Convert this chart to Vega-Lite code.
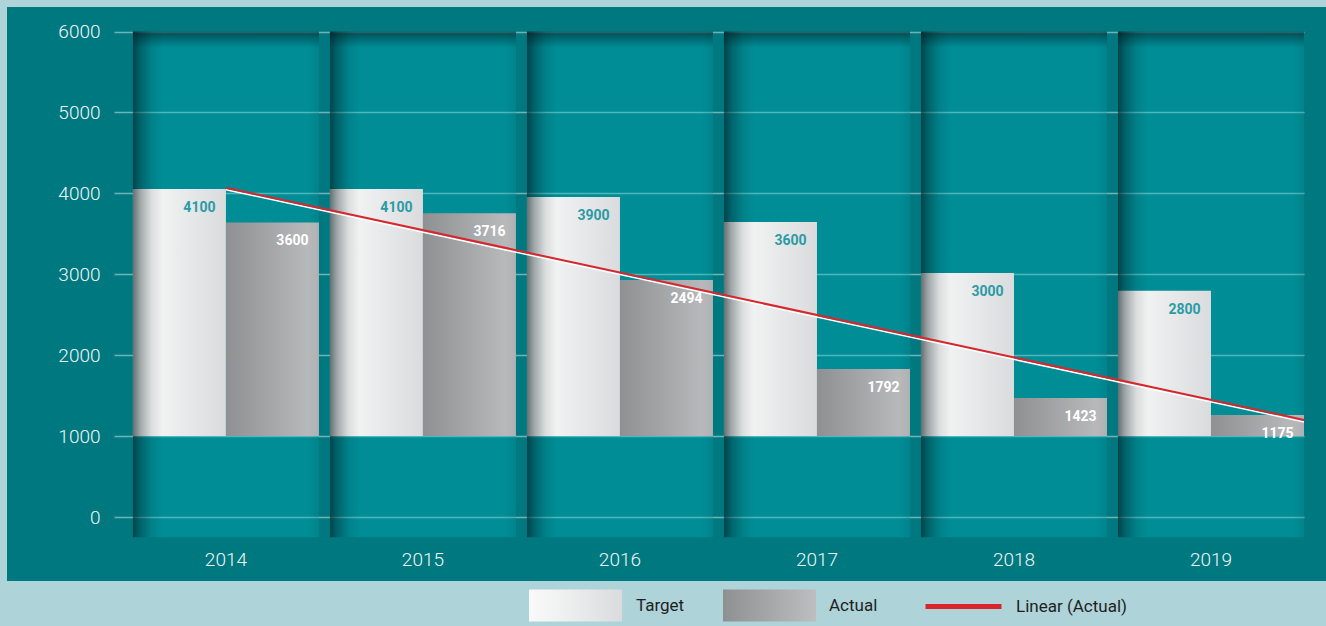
{
  "$schema": "https://vega.github.io/schema/vega-lite/v6.json",
  "width": 1319,
  "height": 574,
  "autosize": {"type": "none"},
  "padding": {"left": 7, "top": 7, "right": 0, "bottom": 45},
  "background": "#aed3d9",
  "data": {"name": "table"},
  "datasets": {
    "table": [
      {"year": "2014", "series": "Target", "bar": 4055, "label": 4100},
      {"year": "2014", "series": "Actual", "bar": 3640, "label": 3600},
      {"year": "2015", "series": "Target", "bar": 4055, "label": 4100},
      {"year": "2015", "series": "Actual", "bar": 3755, "label": 3716},
      {"year": "2016", "series": "Target", "bar": 3955, "label": 3900},
      {"year": "2016", "series": "Actual", "bar": 2930, "label": 2494},
      {"year": "2017", "series": "Target", "bar": 3645, "label": 3600},
      {"year": "2017", "series": "Actual", "bar": 1830, "label": 1792},
      {"year": "2018", "series": "Target", "bar": 3015, "label": 3000},
      {"year": "2018", "series": "Actual", "bar": 1470, "label": 1423},
      {"year": "2019", "series": "Target", "bar": 2795, "label": 2800},
      {"year": "2019", "series": "Actual", "bar": 1260, "label": 1175}
    ],
    "trend": [
      {"from": "2014", "to": "2019", "start": 4070, "end": 1200}
    ]
  },
  "resolve": {"scale": {"stroke": "independent"}, "legend": {"stroke": "independent"}},
  "layer": [
    {
      "transform": [{"filter": "datum.series === 'Target'"}],
      "mark": {"type": "bar", "color": "#00c1cc", "opacity": 0.3},
      "encoding": {
        "x": {
          "field": "year", "type": "nominal",
          "scale": {"range": [107, 1297], "paddingInner": 0.0558, "paddingOuter": 0.048, "align": 1},
          "axis": {"title": null}
        },
        "y": {
          "datum": 6000, "type": "quantitative",
          "scale": {"domain": [0, 6000], "range": [510, 24.5], "nice": false, "zero": false},
          "axis": {"title": null, "values": [0, 1000, 2000, 3000, 4000, 5000, 6000], "format": "d"}
        },
        "y2": {"datum": -250}
      }
    },
    {
      "transform": [{"filter": "datum.series === 'Target'"}],
      "mark": {
        "type": "bar", "strokeWidth": 0,
        "color": {"gradient": "linear", "x1": 0, "y1": 0, "x2": 1, "y2": 0, "stops": [{"offset": 0, "color": "#f9f9f9"}, {"offset": 0.3, "color": "#f1f2f2"}, {"offset": 1, "color": "#dadbdd"}]}
      },
      "encoding": {
        "x": {"field": "year", "type": "nominal", "axis": {"title": null}},
        "xOffset": {"field": "series", "type": "nominal", "scale": {"domain": ["Target", "Actual"], "paddingInner": 0, "paddingOuter": 0}},
        "y": {"field": "bar", "type": "quantitative", "axis": {"title": null}},
        "y2": {"datum": 1000},
        "stroke": {
          "datum": "Target", "type": "nominal",
          "scale": {"range": ["#eeeeee"]},
          "legend": {
            "title": null,
            "orient": "none",
            "legendX": 522,
            "legendY": 552,
            "symbolSize": 8649,
            "symbolType": "M-1,-0.344H1V0.344H-1Z",
            "symbolStrokeWidth": 0,
            "symbolOpacity": 1,
            "labelOffset": 14
          }
        }
      }
    },
    {
      "transform": [{"filter": "datum.series === 'Actual'"}],
      "mark": {
        "type": "bar", "strokeWidth": 0,
        "color": {"gradient": "linear", "x1": 0, "y1": 0, "x2": 1, "y2": 0, "stops": [{"offset": 0, "color": "#8f9092"}, {"offset": 1, "color": "#bdbec0"}]}
      },
      "encoding": {
        "x": {"field": "year", "type": "nominal", "axis": {"title": null}},
        "xOffset": {"field": "series", "type": "nominal"},
        "y": {"field": "bar", "type": "quantitative", "axis": {"title": null}},
        "y2": {"datum": 1000},
        "stroke": {
          "datum": "Actual", "type": "nominal",
          "scale": {"range": ["#a0a0a0"]},
          "legend": {
            "title": null,
            "orient": "none",
            "legendX": 716,
            "legendY": 552,
            "symbolSize": 8649,
            "symbolType": "M-1,-0.344H1V0.344H-1Z",
            "symbolStrokeWidth": 0,
            "symbolOpacity": 1,
            "labelOffset": 13
          }
        }
      }
    },
    {
      "transform": [{"filter": "datum.series === 'Target'"}],
      "mark": {
        "type": "bar",
        "color": {"gradient": "linear", "x1": 0, "y1": 0, "x2": 1, "y2": 0, "stops": [
          {"offset": 0, "color": "rgba(0,20,25,0.6)"},
          {"offset": 0.04, "color": "rgba(0,20,25,0.35)"},
          {"offset": 0.1, "color": "rgba(0,20,25,0.1)"},
          {"offset": 0.16, "color": "rgba(0,20,25,0)"},
          {"offset": 0.94, "color": "rgba(0,20,25,0)"},
          {"offset": 1, "color": "rgba(0,20,25,0.08)"}
        ]}
      },
      "encoding": {
        "x": {"field": "year", "type": "nominal", "axis": {"title": null}},
        "y": {"datum": 6000, "type": "quantitative", "axis": {"title": null}},
        "y2": {"datum": -250}
      }
    },
    {
      "transform": [{"filter": "datum.series === 'Target'"}],
      "mark": {
        "type": "bar",
        "color": {"gradient": "linear", "x1": 0, "y1": 0, "x2": 0, "y2": 1, "stops": [
          {"offset": 0, "color": "rgba(0,20,25,0.55)"},
          {"offset": 0.012, "color": "rgba(0,20,25,0.32)"},
          {"offset": 0.032, "color": "rgba(0,20,25,0)"},
          {"offset": 1, "color": "rgba(0,20,25,0)"}
        ]}
      },
      "encoding": {
        "x": {"field": "year", "type": "nominal", "axis": {"title": null}},
        "y": {"datum": 6000, "type": "quantitative", "axis": {"title": null}},
        "y2": {"datum": -250}
      }
    },
    {
      "mark": {"type": "text", "font": "Roboto", "fontWeight": "bold", "fontSize": 14, "align": "center", "baseline": "middle", "dx": 20, "dy": 19},
      "encoding": {
        "x": {"field": "year", "type": "nominal", "axis": {"title": null}},
        "xOffset": {"field": "series", "type": "nominal"},
        "y": {"field": "bar", "type": "quantitative", "axis": {"title": null}},
        "text": {"field": "label", "type": "quantitative", "format": "d"},
        "color": {"condition": {"test": "datum.series === 'Target'", "value": "#2a9ba5"}, "value": "#ffffff"}
      }
    },
    {
      "data": {"name": "trend"},
      "mark": {"type": "rule", "color": "#ffffff", "strokeWidth": 1.5, "yOffset": 2, "y2Offset": 2},
      "encoding": {
        "x": {"field": "from", "type": "nominal", "bandPosition": 0.5, "axis": {"title": null}},
        "x2": {"field": "to", "bandPosition": 1},
        "y": {"field": "start", "type": "quantitative", "axis": {"title": null}},
        "y2": {"field": "end"}
      }
    },
    {
      "data": {"name": "trend"},
      "mark": {"type": "rule", "strokeWidth": 2},
      "encoding": {
        "x": {"field": "from", "type": "nominal", "bandPosition": 0.5, "axis": {"title": null}},
        "x2": {"field": "to", "bandPosition": 1},
        "y": {"field": "start", "type": "quantitative", "axis": {"title": null}},
        "y2": {"field": "end"},
        "stroke": {
          "datum": "Linear (Actual)", "type": "nominal",
          "scale": {"range": ["#d8262c"]},
          "legend": {
            "title": null,
            "orient": "none",
            "legendX": 916,
            "legendY": 559,
            "symbolSize": 5776,
            "symbolType": "stroke",
            "symbolStrokeWidth": 5,
            "symbolOpacity": 1,
            "labelOffset": 12
          }
        }
      }
    }
  ],
  "config": {
    "view": {"fill": "#00787f", "stroke": null},
    "legend": {
      "padding": 0,
      "labelFont": "Roboto",
      "labelFontSize": 17,
      "labelColor": "#1f1f1f"
    },
    "axis": {
      "domain": false,
      "ticks": false,
      "tickSize": 0,
      "labelFont": "Roboto",
      "labelFontWeight": 300,
      "labelFontSize": 19,
      "labelColor": "#eef7f8",
      "grid": false
    },
    "axisY": {"grid": true, "gridColor": "#6fb3b7", "gridWidth": 1.3, "labelPadding": -93, "labelAlign": "right", "labelBaseline": "middle"},
    "axisX": {"labelPadding": -22, "labelBaseline": "middle", "labelAngle": 0}
  }
}
